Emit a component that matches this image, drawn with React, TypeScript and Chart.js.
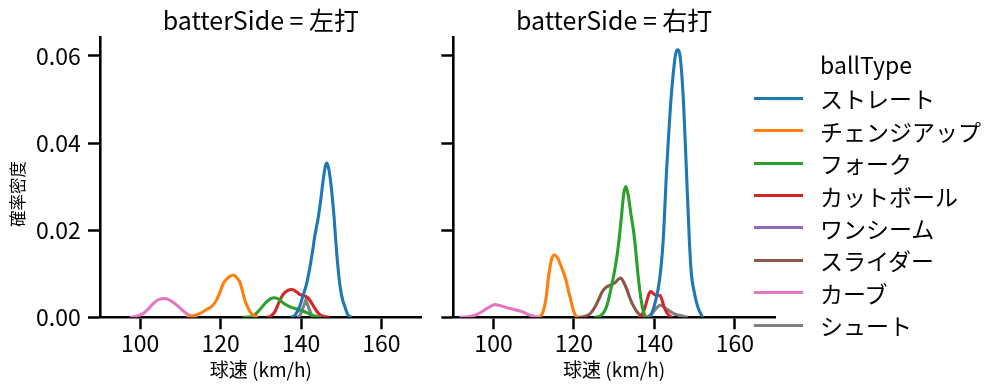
import React, { useEffect, useRef } from 'react';
import { Chart, registerables } from 'chart.js';

Chart.register(...registerables);

const FONT = '"Noto Sans CJK JP", "Noto Sans", sans-serif';

// ---- labels / ticks ----
const panelTitles = ['batterSide = 左打', 'batterSide = 右打'];
const xLabel = '球速 (km/h)';
const yLabel = '確率密度';
const legendTitle = 'ballType';
const xTicks = [100, 120, 140, 160];
const yTicks = [0, 0.02, 0.04, 0.06];
const ballTypes = ['ストレート', 'チェンジアップ', 'フォーク', 'カットボール', 'ワンシーム', 'スライダー', 'カーブ', 'シュート'];
const ballColors = ['#1f77b4', '#ff7f0e', '#2ca02c', '#d62728', '#9467bd', '#8c564b', '#e377c2', '#7f7f7f'];

// ---- 左打 panel ----
const L_straight_x = [137.5, 138.5, 139.6, 140.5, 141.4, 142.2, 143.0, 143.3, 144.3, 144.9, 145.4, 145.9, 146.3, 146.8, 147.4, 148.2, 148.8, 149.6, 150.2, 150.9, 151.7, 152.5];
const L_straight_y = [0, 0.0005, 0.0024, 0.005, 0.0078, 0.0115, 0.016, 0.018, 0.0231, 0.027, 0.0308, 0.034, 0.0354, 0.0345, 0.0308, 0.0231, 0.0155, 0.0078, 0.0045, 0.0024, 0.0005, 0];
const L_change_x = [111.5, 113, 114.9, 116.5, 117.8, 119, 120, 120.7, 121.5, 122.3, 123.2, 124, 124.8, 125.5, 126, 126.7, 127.3, 128.2, 129.3];
const L_change_y = [0, 0.0003, 0.0009, 0.0018, 0.0025, 0.004, 0.0062, 0.0078, 0.0088, 0.0094, 0.0097, 0.0091, 0.008, 0.0058, 0.004, 0.0024, 0.0013, 0.0004, 0];
const L_fork_x = [125.5, 127.5, 128.5, 129.5, 130.5, 131.5, 132.5, 133.3, 134.2, 135.2, 136.2, 137.3, 138.5, 139.6, 140.6, 141.6, 142.7, 143.9, 145];
const L_fork_y = [0, 0.0001, 0.0006, 0.0015, 0.0026, 0.0036, 0.0043, 0.0045, 0.0043, 0.0036, 0.0029, 0.0024, 0.002, 0.0017, 0.0014, 0.001, 0.0005, 0.0002, 0];
const L_cut_x = [131.5, 132.5, 133.5, 134.4, 135.5, 136.7, 137.8, 138.8, 139.8, 140.9, 141.8, 142.8, 143.8, 144.8, 145.8, 147];
const L_cut_y = [0, 0.0003, 0.0013, 0.0032, 0.0052, 0.0062, 0.0064, 0.0059, 0.0052, 0.0049, 0.0044, 0.003, 0.0015, 0.0005, 0.0002, 0];
const L_curve_x = [97.5, 99, 100.8, 102, 103.3, 104.7, 106.2, 107.6, 109.1, 110.4, 111.6, 113, 114.3];
const L_curve_y = [0, 0.0002, 0.0009, 0.0019, 0.0032, 0.0041, 0.0043, 0.0038, 0.0028, 0.0017, 0.0008, 0.0002, 0];
const L_shoot_x = [139.2, 139.8, 140.5, 141.2, 141.9, 142.6, 143.2];
const L_shoot_y = [0, 0.0005, 0.0022, 0.004, 0.0022, 0.0005, 0];

// ---- 右打 panel ----
const R_straight_x = [139, 139.9, 140.9, 141.6, 142.2, 142.6, 143, 143.5, 144, 144.7, 145.3, 145.8, 146.3, 146.8, 147.3, 148, 148.7, 149.2, 149.8, 150.8, 152];
const R_straight_y = [0, 0.0024, 0.0063, 0.011, 0.0177, 0.025, 0.0331, 0.041, 0.0483, 0.056, 0.0605, 0.0614, 0.0605, 0.056, 0.0483, 0.0331, 0.0177, 0.01, 0.0063, 0.0024, 0];
const R_change_x = [111.5, 112.3, 113, 113.8, 114.5, 115.2, 116, 116.7, 118, 118.6, 119.2, 119.8, 120.4, 121.3];
const R_change_y = [0, 0.0012, 0.004, 0.0101, 0.0135, 0.0143, 0.0135, 0.012, 0.0086, 0.0062, 0.004, 0.0018, 0.0004, 0];
const R_fork_x = [125, 126.5, 127.5, 128.3, 129.2, 130, 130.7, 131.2, 131.8, 132.4, 132.9, 133.4, 134.2, 134.9, 135.4, 135.9, 136.4, 137, 137.5, 138];
const R_fork_y = [0, 0.0003, 0.0012, 0.003, 0.0065, 0.0101, 0.014, 0.0177, 0.023, 0.0285, 0.03, 0.0285, 0.0235, 0.0193, 0.015, 0.0101, 0.006, 0.0024, 0.0007, 0];
const R_cut_x = [136, 136.8, 137.5, 138.2, 138.7, 139.1, 139.7, 140.3, 141.4, 141.9, 142.4, 143, 143.6, 144.4];
const R_cut_y = [0, 0.0004, 0.0018, 0.004, 0.0055, 0.0059, 0.0055, 0.0051, 0.005, 0.004, 0.0024, 0.0012, 0.0005, 0];
const R_slider_x = [121.5, 123, 124.2, 125.3, 126.2, 127, 127.9, 129.1, 130.2, 131, 131.6, 132.4, 133.2, 134, 134.9, 135.8, 136.6, 138];
const R_slider_y = [0, 0.0003, 0.001, 0.0025, 0.0042, 0.0058, 0.0068, 0.0074, 0.0079, 0.0087, 0.009, 0.008, 0.0063, 0.0042, 0.0024, 0.0011, 0.0005, 0];
const R_curve_x = [91.5, 93.5, 95.2, 96.8, 98.5, 100.3, 101.5, 102.6, 103.8, 105.1, 106.4, 107.6, 108.8, 110.1, 111.7];
const R_curve_y = [0, 0.0001, 0.0004, 0.0011, 0.0021, 0.0029, 0.0027, 0.0024, 0.0021, 0.0018, 0.0015, 0.0011, 0.0006, 0.0002, 0];
const R_shoot_x = [138.2, 139.3, 140.4, 141.5, 142.7, 144, 145.2, 146.5, 148.3];
const R_shoot_y = [0, 0.0008, 0.002, 0.0028, 0.0021, 0.0013, 0.0007, 0.0004, 0];

type Series = { type: number; xs: number[]; ys: number[]; straight?: boolean };

const leftSeries: Series[] = [
  { type: 0, xs: L_straight_x, ys: L_straight_y },
  { type: 1, xs: L_change_x, ys: L_change_y },
  { type: 2, xs: L_fork_x, ys: L_fork_y },
  { type: 3, xs: L_cut_x, ys: L_cut_y },
  { type: 6, xs: L_curve_x, ys: L_curve_y },
  { type: 7, xs: L_shoot_x, ys: L_shoot_y, straight: true },
];
const rightSeries: Series[] = [
  { type: 0, xs: R_straight_x, ys: R_straight_y },
  { type: 1, xs: R_change_x, ys: R_change_y },
  { type: 2, xs: R_fork_x, ys: R_fork_y },
  { type: 3, xs: R_cut_x, ys: R_cut_y },
  { type: 5, xs: R_slider_x, ys: R_slider_y },
  { type: 6, xs: R_curve_x, ys: R_curve_y },
  { type: 7, xs: R_shoot_x, ys: R_shoot_y },
];

const X_MIN = 90;
const X_MAX = 170;
const Y_MAX = 0.06436;

const overlayPlugin = {
  id: 'overlay',
  afterDraw(chart: any, _args: any, opts: any) {
    const { ctx, chartArea } = chart;
    ctx.save();
    ctx.fillStyle = '#000';
    ctx.textAlign = 'center';
    ctx.textBaseline = 'middle';
    ctx.font = `25px ${FONT}`;
    ctx.fillText(opts.title, (chartArea.left + chartArea.right) / 2, 20);
    if (opts.ylabel) {
      ctx.translate(17.5, 194);
      ctx.rotate(-Math.PI / 2);
      ctx.font = `16.5px ${FONT}`;
      ctx.fillText(opts.ylabel, 0, 0);
    }
    ctx.restore();
  },
};

function buildConfig(series: Series[], title: string, isLeft: boolean, rightPad: number, yAxisWidth: number): any {
  const datasets = series.map((s) => ({
    label: ballTypes[s.type],
    data: s.xs.map((x, i) => ({ x, y: s.ys[i] })),
    borderColor: ballColors[s.type],
    backgroundColor: ballColors[s.type],
    borderWidth: 3.1,
    pointRadius: 0,
    fill: false,
    tension: 0,
    cubicInterpolationMode: s.straight ? 'default' : 'monotone',
  }));
  return {
    type: 'line',
    data: { datasets },
    plugins: [overlayPlugin],
    options: {
      animation: false,
      responsive: false,
      devicePixelRatio: 1,
      layout: { padding: { top: 37, right: rightPad, left: 0, bottom: 0 } },
      plugins: {
        legend: { display: false },
        tooltip: { enabled: false },
        overlay: { title, ylabel: isLeft ? yLabel : null },
      },
      scales: {
        x: {
          type: 'linear',
          min: X_MIN,
          max: X_MAX,
          afterBuildTicks: (s: any) => { s.ticks = xTicks.map((v) => ({ value: v })); },
          afterFit: (s: any) => { s.height = 73.7; },
          grid: { drawOnChartArea: false, color: 'rgba(0,0,0,0)', tickColor: '#000', tickWidth: 2.5, tickLength: 12 },
          border: { display: true, color: '#000', width: 2.6 },
          ticks: { color: '#000', font: { family: FONT, size: 23 }, padding: 0, maxRotation: 0, autoSkip: false, callback: (v: any) => String(v) },
          title: { display: true, text: xLabel, color: '#000', font: { family: FONT, size: 19 }, padding: { top: 0, bottom: 9.5 } },
        },
        y: {
          type: 'linear',
          min: 0,
          max: Y_MAX,
          afterBuildTicks: (s: any) => { s.ticks = yTicks.map((v) => ({ value: v })); },
          afterFit: (s: any) => { s.width = yAxisWidth; },
          grid: { drawOnChartArea: false, color: 'rgba(0,0,0,0)', tickColor: '#000', tickWidth: 2.5, tickLength: 12 },
          border: { display: true, color: '#000', width: 2.6 },
          ticks: {
            display: isLeft,
            color: '#000',
            font: { family: FONT, size: 23 },
            padding: 7.3,
            callback: (v: any) => Number(v).toFixed(2),
          },
        },
      },
    },
  };
}

function Panel(props: { left: number; width: number; series: Series[]; title: string; isLeft: boolean; rightPad: number; yAxisWidth: number }) {
  const ref = useRef<HTMLCanvasElement | null>(null);
  useEffect(() => {
    if (!ref.current) return;
    const chart = new Chart(ref.current, buildConfig(props.series, props.title, props.isLeft, props.rightPad, props.yAxisWidth));
    return () => chart.destroy();
  }, []);
  return (
    <canvas
      ref={ref}
      width={props.width}
      height={391}
      style={{ position: 'absolute', left: props.left, top: 0, width: props.width, height: 391, display: 'block' }}
    />
  );
}

function Legend() {
  const rowY0 = 98.3;
  const rowStep = 32.4;
  return (
    <div style={{ position: 'absolute', left: 0, top: 0, width: 999, height: 391, pointerEvents: 'none', fontFamily: FONT, color: '#000' }}>
      <div style={{ position: 'absolute', left: 754, width: 224, top: 64 - 16, height: 32, lineHeight: '32px', fontSize: 23, textAlign: 'center', whiteSpace: 'nowrap' }}>
        {legendTitle}
      </div>
      {ballTypes.map((name, i) => {
        const y = rowY0 + i * rowStep;
        return (
          <React.Fragment key={name}>
            <div style={{ position: 'absolute', left: 754, top: y - 1.55, width: 48.7, height: 3.1, background: ballColors[i] }} />
            <div style={{ position: 'absolute', left: 820, top: y - 16, height: 32, lineHeight: '32px', fontSize: 23, whiteSpace: 'nowrap' }}>
              {name}
            </div>
          </React.Fragment>
        );
      })}
    </div>
  );
}

export default function App() {
  return (
    <div style={{ position: 'absolute', left: 0, top: 0, width: 999, height: 391, background: '#fff', overflow: 'hidden' }}>
      <Panel left={0} width={440} series={leftSeries} title={panelTitles[0]} isLeft={true} rightPad={440 - 421.7} yAxisWidth={100} />
      <Panel left={440} width={559} series={rightSeries} title={panelTitles[1]} isLeft={false} rightPad={559 - 335} yAxisWidth={13.3} />
      <Legend />
    </div>
  );
}
